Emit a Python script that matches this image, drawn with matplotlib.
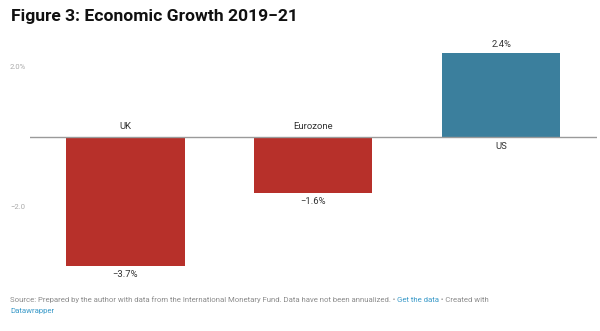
import matplotlib
matplotlib.use("Agg")
import matplotlib.pyplot as plt

plt.rcParams['font.family'] = ['Roboto', 'DejaVu Sans']

regions = ["UK", "Eurozone", "US"]
growth = [-3.7, -1.6, 2.4]
bar_colors = ["#b7302a", "#b7302a", "#3b7f9d"]
ytick_vals = [2.0, -2.0]
ytick_labels = ["2.0%", "\u22122.0"]

fig = plt.figure(figsize=(6.0, 3.31), dpi=100)
ax = fig.add_axes([0.05, 0.178, 0.945, 0.686])

x = list(range(len(regions)))
ax.bar(x, growth, width=0.63, color=bar_colors, zorder=2)
ax.set_xlim(-0.508, 2.51)
ax.set_ylim(-3.87, 2.62)
ax.axhline(0, color="#9a9a9a", lw=1.0, zorder=3)

for s in ax.spines.values():
    s.set_visible(False)
ax.set_xticks([])
ax.set_yticks([])

# y-axis labels sit to the left of the plot area
for v, lab in zip(ytick_vals, ytick_labels):
    ax.text(-0.53, v, lab, ha="right", va="center", fontsize=5.5, color="#aaaaaa")

for xi, v, name in zip(x, growth, regions):
    val = f"{v:.1f}%".replace("-", "\u2212")
    if v < 0:
        ax.annotate(name, (xi, 0), xytext=(0, 4), textcoords="offset points",
                    ha="center", va="bottom", fontsize=6.8, color="#333333")
        ax.annotate(val, (xi, v), xytext=(0, -3), textcoords="offset points",
                    ha="center", va="top", fontsize=6.8, color="#333333")
    else:
        ax.annotate(name, (xi, 0), xytext=(0, -4), textcoords="offset points",
                    ha="center", va="top", fontsize=6.8, color="#333333")
        ax.annotate(val, (xi, v), xytext=(0, 3), textcoords="offset points",
                    ha="center", va="bottom", fontsize=6.8, color="#333333")

fig.text(11 / 600, 1 - 17 / 331, "Figure 3: Economic Growth 2019\u221221",
         fontsize=12.6, fontweight="bold", color="#111111", ha="left", va="center")

# footer built from pieces so the links can be coloured
grey = "#8c8c8c"
blue = "#3a9ac9"
pieces = [
    ("Source: Prepared by the author with data from the International Monetary Fund. Data have not been annualized. \u2022 ", grey),
    ("Get the data", blue),
    (" \u2022 Created with", grey),
]
fig.canvas.draw()
renderer = fig.canvas.get_renderer()
xpos = 10
y1 = 1 - 300 / 331
for txt, col in pieces:
    t = fig.text(xpos / 600, y1, txt, fontsize=5.6, color=col, ha="left", va="center")
    bb = t.get_window_extent(renderer=renderer)
    xpos += bb.width
fig.text(10 / 600, 1 - 311 / 331, "Datawrapper", fontsize=5.6, color=blue,
         ha="left", va="center")

fig.savefig("out.png", dpi=100, facecolor="white")
